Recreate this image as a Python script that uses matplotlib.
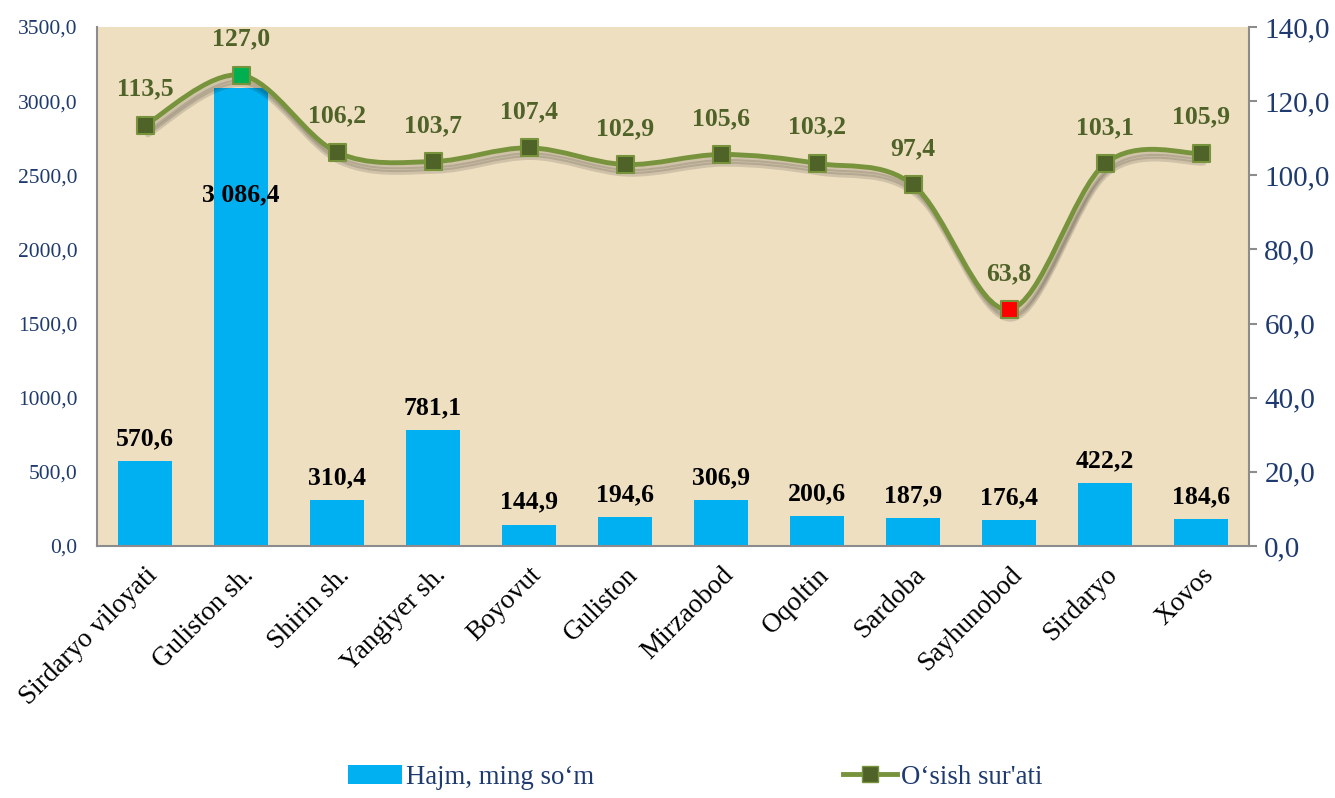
import matplotlib
matplotlib.use("Agg")
import numpy as np
import matplotlib.pyplot as plt
from matplotlib.path import Path
from matplotlib.patches import PathPatch, Patch
from matplotlib.lines import Line2D
import matplotlib.patheffects as pe

plt.rcParams['font.family'] = ['Liberation Serif', 'DejaVu Serif']

# data
categories = ['Sirdaryo viloyati', 'Guliston sh.', 'Shirin sh.', 'Yangiyer sh.',
              'Boyovut', 'Guliston', 'Mirzaobod', 'Oqoltin', 'Sardoba',
              'Sayhunobod', 'Sirdaryo', 'Xovos']
hajm = [570.6, 3086.4, 310.4, 781.1, 144.9, 194.6, 306.9, 200.6, 187.9, 176.4, 422.2, 184.6]
osish = [113.5, 127.0, 106.2, 103.7, 107.4, 102.9, 105.6, 103.2, 97.4, 63.8, 103.1, 105.9]
left_ticks = [0, 500, 1000, 1500, 2000, 2500, 3000, 3500]
right_ticks = [0, 20, 40, 60, 80, 100, 120, 140]

NAVY = '#1F3A6E'
BAR = '#00B0F0'
LINE = '#77933C'
DARKG = '#4F6228'
SPINE = '#8C8C8C'


def fmt(v):
    return f"{v:,.1f}".replace(',', ' ').replace('.', ',')


def smooth_path(xs, ys):
    # catmull-rom style bezier through the points (like Excel smoothed line)
    pts = np.column_stack([xs, ys]).astype(float)
    n = len(pts)
    verts = [pts[0]]
    codes = [Path.MOVETO]
    for i in range(n - 1):
        p0 = pts[i - 1] if i > 0 else pts[i]
        p1 = pts[i]
        p2 = pts[i + 1]
        p3 = pts[i + 2] if i + 2 < n else pts[i + 1]
        c1 = p1 + (p2 - p0) / 6.0
        c2 = p2 - (p3 - p1) / 6.0
        verts += [c1, c2, p2]
        codes += [Path.CURVE4] * 3
    return Path(verts, codes)


fig = plt.figure(figsize=(13.35, 7.98), dpi=100)
ax = fig.add_axes([0.0727, 0.3158, 0.8629, 0.6504])
ax.set_facecolor('#EEDFC1')
x = np.arange(len(categories))

ax.bar(x, hajm, width=0.56, color=BAR, zorder=2)
ax.set_xlim(-0.5, len(categories) - 0.5)
ax.set_ylim(0, 3500)
ax.set_yticks(left_ticks)
ax.set_yticklabels([fmt(t).replace(' ', '') for t in left_ticks], color=NAVY, fontsize=15.5)
ax.tick_params(axis='y', length=0, pad=14)
ax.set_xticks(x)
ax.set_xticklabels(categories, rotation=45, ha='right', va='top',
                   rotation_mode='anchor', fontsize=19.5)
ax.tick_params(axis='x', length=0, pad=12)
for s in ['top', 'right']:
    ax.spines[s].set_visible(False)
for s in ['left', 'bottom']:
    ax.spines[s].set_color(SPINE)
    ax.spines[s].set_linewidth(1.5)

for xi, v in zip(x, hajm):
    if v > 0.8 * 3500:
        ax.annotate(fmt(v), (xi, v), xytext=(0, -77), textcoords='offset points',
                    ha='center', va='center', fontsize=18.5, fontweight='bold', color='black')
    else:
        ax.annotate(fmt(v), (xi, v), xytext=(0, 16), textcoords='offset points',
                    ha='center', va='center', fontsize=18.5, fontweight='bold', color='black')

ax2 = ax.twinx()
ax2.set_ylim(0, 140)
ax2.set_yticks(right_ticks)
ax2.set_yticklabels([fmt(t) for t in right_ticks], color=NAVY, fontsize=21)
ax2.tick_params(axis='y', length=6, width=1.5, color=SPINE, pad=5)
for s in ['top', 'left', 'bottom']:
    ax2.spines[s].set_visible(False)
ax2.spines['right'].set_color(SPINE)
ax2.spines['right'].set_linewidth(1.5)

# soft shadow built from a few offset copies
shadow = [pe.SimpleLineShadow(offset=(2, -d), shadow_color='black', alpha=0.13)
          for d in (3, 5, 7)]
curve = PathPatch(smooth_path(x, osish), facecolor='none', edgecolor=LINE,
                  linewidth=3.5, zorder=3, capstyle='round',
                  path_effects=shadow + [pe.Normal()])
ax2.add_patch(curve)

imax = int(np.argmax(osish))
imin = int(np.argmin(osish))
face = [DARKG] * len(osish)
face[imax] = '#00B050'
face[imin] = '#FF0000'
ax2.scatter(x, osish, marker='s', s=150, c=face, edgecolors=LINE, linewidths=1.5, zorder=4)

for xi, v in zip(x, osish):
    ax2.annotate(fmt(v), (xi, v), xytext=(0, 26), textcoords='offset points',
                 ha='center', va='center', fontsize=18.5, fontweight='bold', color=DARKG)

handles = [Patch(facecolor=BAR, edgecolor='none'),
           Line2D([], [], color=LINE, lw=3.5, marker='s', markersize=12,
                  markerfacecolor=DARKG, markeredgecolor=LINE)]
fig.legend(handles, ['Hajm, ming so‘m', 'O‘sish sur\'ati'], loc='center',
           bbox_to_anchor=(0.521, 0.026), ncol=2, frameon=False, fontsize=19.3,
           labelcolor=NAVY, columnspacing=9.3, handlelength=2.0, handletextpad=0.15)

fig.savefig('out.png', dpi=100, facecolor='white')
